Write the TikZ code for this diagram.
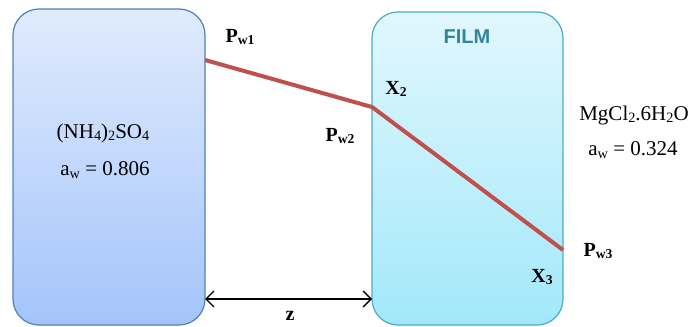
\documentclass[tikz,border=0pt]{standalone}
\usepackage{fontspec}
\setmainfont{Liberation Serif}
\setsansfont{Liberation Sans}
\usetikzlibrary{calc}
\usetikzlibrary{arrows.meta}
\definecolor{saltedge}{RGB}{79,129,189}
\definecolor{filmedge}{RGB}{75,172,198}
\definecolor{filmtext}{RGB}{49,132,155}
\definecolor{profile}{RGB}{192,80,77}
\tikzset{
  box/.style={draw,line width=1.2pt,rounded corners=26pt,inner sep=0pt},
  lbl/.style={inner sep=0pt,font=\bfseries\fontsize{20}{22}\selectfont},
  txt/.style={inner sep=0pt,font=\fontsize{21}{24}\selectfont}
}
\newcommand{\wsub}[1]{\raisebox{-0.3ex}{\scalebox{0.68}{#1}}}
\begin{document}
\begin{tikzpicture}[x=1pt,y=-1pt]
\useasboundingbox (0,0) rectangle (692,326);
\node[box,draw=saltedge,top color={rgb,255:red,224;green,235;blue,253},bottom color={rgb,255:red,164;green,196;blue,250},
  minimum width=192pt,minimum height=316pt] (salt) at (109,167) {};
\node[box,draw=filmedge,top color={rgb,255:red,225;green,247;blue,253},bottom color={rgb,255:red,162;green,232;blue,250},
  minimum width=191pt,minimum height=313pt] (film) at (467.5,168.5) {};
\node[inner sep=0pt,text=filmtext,font=\sffamily\bfseries\fontsize{20}{22}\selectfont] (ftitle) at (467,37) {FILM};

\node[txt] (salt1) at (103,133) {(NH\wsub{4})\wsub{2}SO\wsub{4}};
\node[txt] (salt2) at (105,170) {a\wsub{w} = 0.806};
\node[txt] (salt3) at (634,115) {MgCl\wsub{2}.6H\wsub{2}O};
\node[txt] (salt4) at (633,150) {a\wsub{w} = 0.324};

\coordinate (pw1) at (205,60);
\coordinate (pw2) at (372,107);
\coordinate (pw3) at (563,250);
\draw[profile,line width=4pt,line join=round] (pw1) -- (pw2) -- (pw3);

\node[lbl] (lpw1) at (240,37) {P\wsub{w1}};
\node[lbl] (lpw2) at (340,136) {P\wsub{w2}};
\node[lbl] (lpw3) at (598,251) {P\wsub{w3}};
\node[lbl] (lx2) at (396,89) {X\wsub{2}};
\node[lbl] (lx3) at (542,277) {X\wsub{3}};

\coordinate (za) at (205,299);
\coordinate (zb) at (372,299);
\draw[line width=1.4pt,{Straight Barb[length=8pt,width=16pt]}-{Straight Barb[length=8pt,width=16pt]}] (za) -- (zb);
\node[lbl] (lz) at (290,316) {z};
\end{tikzpicture}
\end{document}
